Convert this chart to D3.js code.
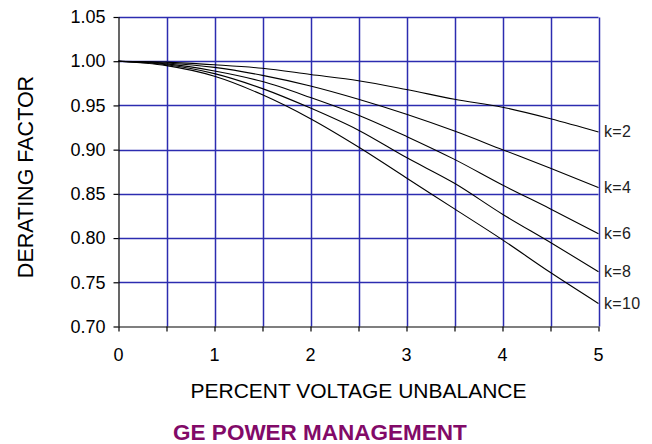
<!DOCTYPE html>
<html>
<head>
<meta charset="utf-8">
<script src="https://cdn.jsdelivr.net/npm/d3@7"></script>
<style>
  html, body { margin: 0; padding: 0; background: #fff; }
  svg { display: block; }
</style>
</head>
<body>
<svg id="chart" width="652" height="444"></svg>
<script>
// Percent voltage unbalance (x) and derating factor per k-curve
const unbalance = [0, 0.5, 1, 1.5, 2, 2.5, 3, 3.5, 4, 4.5, 5];
const k2  = [1.000, 0.999, 0.996, 0.992, 0.985, 0.978, 0.968, 0.957, 0.948, 0.935, 0.920];
const k4  = [1.000, 0.998, 0.993, 0.984, 0.972, 0.957, 0.940, 0.921, 0.900, 0.879, 0.857];
const k6  = [1.000, 0.997, 0.989, 0.977, 0.959, 0.939, 0.915, 0.889, 0.860, 0.833, 0.805];
const k8  = [1.000, 0.996, 0.986, 0.969, 0.947, 0.922, 0.891, 0.862, 0.827, 0.795, 0.762];
const k10 = [1.000, 0.995, 0.983, 0.962, 0.935, 0.903, 0.868, 0.833, 0.798, 0.761, 0.726];
const seriesNames = ["k=2", "k=4", "k=6", "k=8", "k=10"];
const seriesValues = [k2, k4, k6, k8, k10];

const xTicks = [0, 1, 2, 3, 4, 5];
const xGrid = [0.5, 1, 1.5, 2, 2.5, 3, 3.5, 4, 4.5, 5];
const yTicks = [0.70, 0.75, 0.80, 0.85, 0.90, 0.95, 1.00, 1.05];

const svg = d3.select("#chart");
const plotLeft = 118.5, plotRight = 598.5, plotTop = 17, plotBottom = 326.5;

const x = d3.scaleLinear().domain([0, 5]).range([plotLeft, plotRight]);
const y = d3.scaleLinear().domain([0.70, 1.05]).range([plotBottom, plotTop]);

const gridColor = "#2c2cb0";
const font = "'Liberation Sans', Arial, sans-serif";

// Horizontal grid lines
svg.append("g").selectAll("line")
  .data(yTicks.filter(v => v > 0.70))
  .join("line")
  .attr("x1", plotLeft).attr("x2", plotRight)
  .attr("y1", d => Math.round(y(d)) + 0.5).attr("y2", d => Math.round(y(d)) + 0.5)
  .attr("stroke", gridColor).attr("stroke-width", 1.5);

// Vertical grid lines
svg.append("g").selectAll("line")
  .data(xGrid)
  .join("line")
  .attr("x1", d => Math.round(x(d)) + 0.5).attr("x2", d => Math.round(x(d)) + 0.5)
  .attr("y1", Math.round(y(1.05)) + 0.5).attr("y2", plotBottom)
  .attr("stroke", gridColor).attr("stroke-width", 1.5);

// Curves
const line = d3.line()
  .x((d, i) => x(unbalance[i]))
  .y(d => y(d))
  .curve(d3.curveMonotoneX);

svg.append("g").selectAll("path")
  .data(seriesValues)
  .join("path")
  .attr("d", d => line(d))
  .attr("fill", "none")
  .attr("stroke", "#000")
  .attr("stroke-width", 1.1);

// Curve labels at the right edge
svg.append("g").selectAll("text")
  .data(seriesNames)
  .join("text")
  .attr("x", plotRight + 5.5)
  .attr("y", (d, i) => y(seriesValues[i][seriesValues[i].length - 1]) + 5.5)
  .attr("font-family", font)
  .attr("font-size", 16)
  .attr("letter-spacing", 0.3)
  .attr("fill", "#222")
  .text(d => d);

// Y axis
const yAxis = svg.append("g")
  .attr("transform", `translate(${plotLeft},0)`)
  .call(d3.axisLeft(y).tickValues(yTicks).tickFormat(d3.format(".2f")).tickSize(5).tickPadding(8));
// X axis
const xAxis = svg.append("g")
  .attr("transform", `translate(0,${plotBottom})`)
  .call(d3.axisBottom(x).tickValues(xGrid.concat([0])).tickSize(5).tickFormat(() => "").tickPadding(8));
svg.append("g").selectAll("text")
  .data(xTicks)
  .join("text")
  .attr("x", d => x(d))
  .attr("y", 360.5)
  .attr("text-anchor", "middle")
  .attr("font-family", font)
  .attr("font-size", 18)
  .attr("fill", "#000")
  .text(d => d);

[yAxis, xAxis].forEach(g => {
  g.select(".domain").attr("stroke", "#000").attr("stroke-width", 1.2);
  g.selectAll(".tick line").attr("stroke", "#000").attr("stroke-width", 1.2);
  g.selectAll(".tick text").attr("font-family", font).attr("font-size", 18).attr("fill", "#000");
});
yAxis.select(".domain").attr("d", `M0.5,${plotBottom}V${plotTop}`);
xAxis.select(".domain").attr("d", `M${plotLeft},0.5H${plotRight}`);

// Axis titles
svg.append("text")
  .attr("x", (plotLeft + plotRight) / 2)
  .attr("y", 397.5)
  .attr("text-anchor", "middle")
  .attr("font-family", font)
  .attr("font-size", 21)
  .attr("fill", "#000")
  .text("PERCENT VOLTAGE UNBALANCE");

svg.append("text")
  .attr("transform", "translate(32.5,177) rotate(-90)")
  .attr("text-anchor", "middle")
  .attr("font-family", font)
  .attr("font-size", 21.5)
  .attr("fill", "#000")
  .text("DERATING FACTOR");

// Footer
svg.append("text")
  .attr("x", 320)
  .attr("y", 440)
  .attr("text-anchor", "middle")
  .attr("font-family", font)
  .attr("font-weight", "bold")
  .attr("font-size", 22.5)
  .attr("fill", "#820a68")
  .text("GE POWER MANAGEMENT");
</script>
</body>
</html>
